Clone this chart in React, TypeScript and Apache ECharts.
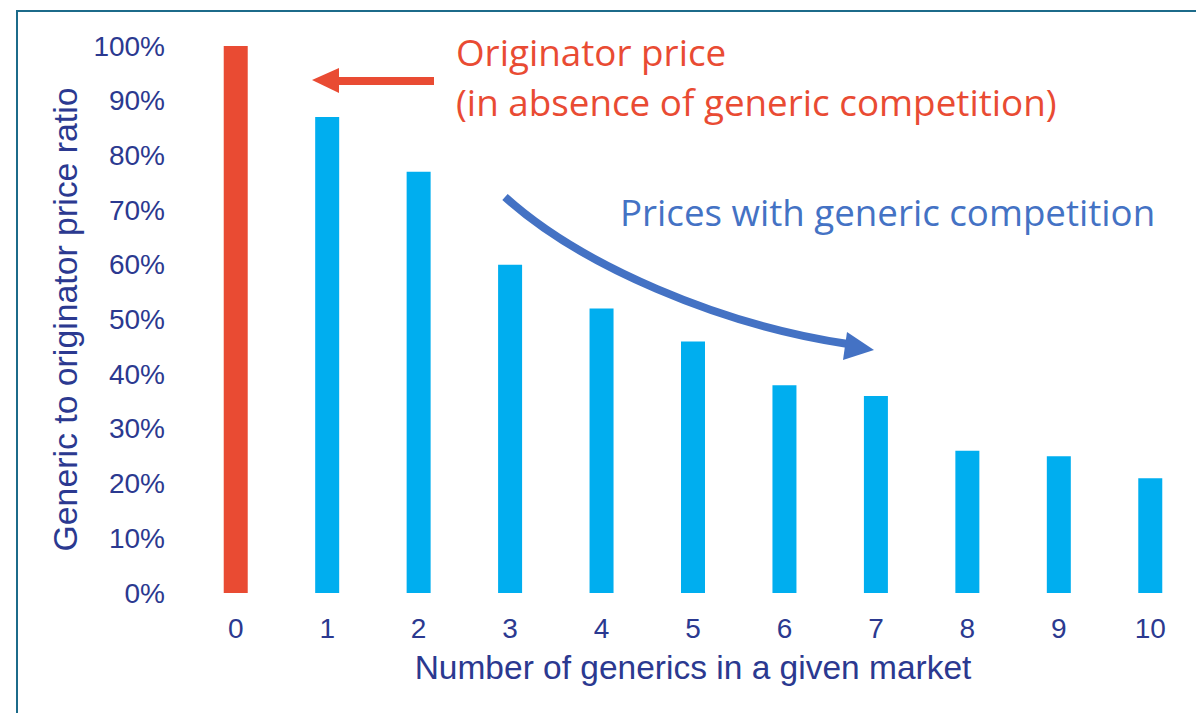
import React, { useEffect, useRef } from "react";
import * as echarts from "echarts";

const categories = ["0", "1", "2", "3", "4", "5", "6", "7", "8", "9", "10"];
const ratios = [100, 87, 77, 60, 52, 46, 38, 36, 26, 25, 21];
const originatorIndex = 0;
const yTicks = [0, 10, 20, 30, 40, 50, 60, 70, 80, 90, 100];

const NAVY = "#2b3990";
const RED = "#e94b33";
const CYAN = "#00aeef";
const ARROW_BLUE = "#4472c4";
const NOTE_FONT = '"Open Sans", Lato, sans-serif';

export default function App() {
  const ref = useRef<HTMLDivElement>(null);
  useEffect(() => {
    if (!ref.current) return;
    const chart = echarts.init(ref.current, null, { renderer: "svg" });
    chart.setOption({
      animation: false,
      backgroundColor: "#ffffff",
      textStyle: { fontFamily: "Liberation Sans, Arial, sans-serif" },
      grid: { left: 190, top: 46, width: 1010, height: 547, containLabel: false },
      xAxis: {
        type: "category",
        data: categories,
        axisLine: { show: false },
        axisTick: { show: false },
        axisLabel: { color: NAVY, fontSize: 28, margin: 21 },
        name: "Number of generics in a given market",
        nameLocation: "middle",
        nameGap: 57,
        nameTextStyle: { color: NAVY, fontSize: 33.5 },
      },
      yAxis: {
        type: "value",
        min: 0,
        max: 100,
        interval: 10,
        splitLine: { show: false },
        axisLine: { show: false },
        axisTick: { show: false },
        axisLabel: {
          color: NAVY,
          fontSize: 28,
          margin: 25,
          formatter: (v: number) => (yTicks.includes(v) ? v + "%" : ""),
        },
        name: "Generic to originator price ratio",
        nameLocation: "middle",
        nameGap: 104,
        nameTextStyle: { color: NAVY, fontSize: 33.8 },
      },
      series: [
        {
          type: "bar",
          barWidth: 24,
          data: ratios.map((v, i) => ({
            value: v,
            itemStyle: { color: i === originatorIndex ? RED : CYAN },
          })),
        },
      ],
      graphic: [
        {
          type: "rect",
          silent: true,
          shape: { x: 17, y: 11, width: 1300, height: 900 },
          style: { fill: "none", stroke: "#1c6b8a", lineWidth: 2 },
        },
        {
          type: "line",
          shape: { x1: 336, y1: 81, x2: 434, y2: 81 },
          style: { stroke: RED, lineWidth: 8 },
        },
        {
          type: "polygon",
          shape: { points: [[312, 80], [339, 68], [339, 93]] },
          style: { fill: RED },
        },
        {
          type: "text",
          x: 456,
          y: 27,
          style: {
            text: "Originator price\n(in absence of generic competition)",
            fill: RED,
            font: "36.8px " + NOTE_FONT,
            lineHeight: 50,
          },
        },
        {
          type: "bezierCurve",
          shape: { x1: 505, y1: 197, cpx1: 580, cpy1: 265, cpx2: 720, cpy2: 325, x2: 848, y2: 344 },
          style: { stroke: ARROW_BLUE, lineWidth: 8, fill: "none" },
        },
        {
          type: "polygon",
          shape: { points: [[874, 350], [847, 332], [843, 360]] },
          style: { fill: ARROW_BLUE },
        },
        {
          type: "text",
          x: 620,
          y: 193,
          style: {
            text: "Prices with generic competition",
            fill: ARROW_BLUE,
            font: "36.7px " + NOTE_FONT,
          },
        },
      ],
    });
    return () => chart.dispose();
  }, []);
  return (
    <div
      ref={ref}
      style={{ position: "absolute", left: 0, top: 0, width: 1196, height: 713 }}
    />
  );
}
